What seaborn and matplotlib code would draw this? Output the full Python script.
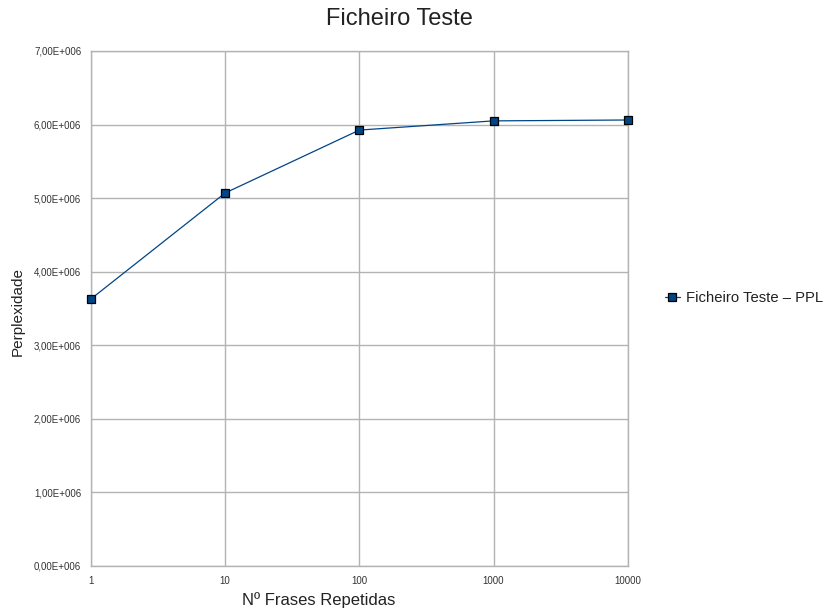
import seaborn as sns
import matplotlib.pyplot as plt
import pandas as pd
from matplotlib.ticker import FuncFormatter, FixedLocator, NullLocator

# dados
frases = [1, 10, 100, 1000, 10000]
ppl = [3.63e6, 5.07e6, 5.925e6, 6.05e6, 6.062e6]
x_ticks = [1, 10, 100, 1000, 10000]
y_ticks = [0, 1e6, 2e6, 3e6, 4e6, 5e6, 6e6, 7e6]

df = pd.DataFrame({"frases": frases, "ppl": ppl})

sns.set_theme(style="white")
plt.rcParams['font.family'] = ['Liberation Sans', 'DejaVu Sans']

fig = plt.figure(figsize=(8.25, 6.15), dpi=100)
ax = fig.add_axes([0.1103, 0.0797, 0.6506, 0.8374])
ax.set_xscale('log')

sns.lineplot(data=df, x="frases", y="ppl", ax=ax, color='#004586', linewidth=0.9,
             marker='s', markersize=6, markerfacecolor='#004586',
             markeredgecolor='black', markeredgewidth=0.9,
             label='Ficheiro Teste – PPL', clip_on=False, zorder=3)

ax.set_xlim(1, 10000)
ax.set_ylim(0, 7e6)
ax.xaxis.set_major_locator(FixedLocator(x_ticks))
ax.xaxis.set_minor_locator(NullLocator())
ax.xaxis.set_major_formatter(FuncFormatter(lambda v, p: f"{int(round(v))}"))
ax.yaxis.set_major_locator(FixedLocator(y_ticks))
ax.yaxis.set_major_formatter(FuncFormatter(
    lambda v, p: f"{v/1e6:.2f}".replace('.', ',') + "E+006"))

ax.grid(True, color='#b3b3b3', linewidth=1)
ax.set_axisbelow(True)
for s in ax.spines.values():
    s.set_color('#b3b3b3')
    s.set_linewidth(1)
ax.tick_params(axis='both', which='major', direction='out', length=4,
               width=1, color='#b3b3b3', labelsize=7, labelcolor='#333333', pad=3)

ax.set_xlabel('')
ax.set_ylabel('')
fig.text(0.3867, 1 - 600 / 615, 'Nº Frases Repetidas', ha='center', va='center',
         fontsize=12, color='#222222')
fig.text(18 / 825, 1 - 311 / 615, 'Perplexidade', ha='center', va='center',
         rotation=90, fontsize=11, color='#222222')
fig.text(399 / 825, 1 - 25 / 615, 'Ficheiro Teste', ha='center', va='baseline',
         fontsize=17, color='#222222')

leg = ax.legend(loc='center left', bbox_to_anchor=(665 / 825, 1 - 298 / 615),
                bbox_transform=fig.transFigure, frameon=False,
                fontsize=10.7, handlelength=1.0, handletextpad=0.4,
                borderaxespad=0.0, borderpad=0.0)
leg.get_texts()[0].set_color('#222222')

fig.savefig('out.png', dpi=100)
